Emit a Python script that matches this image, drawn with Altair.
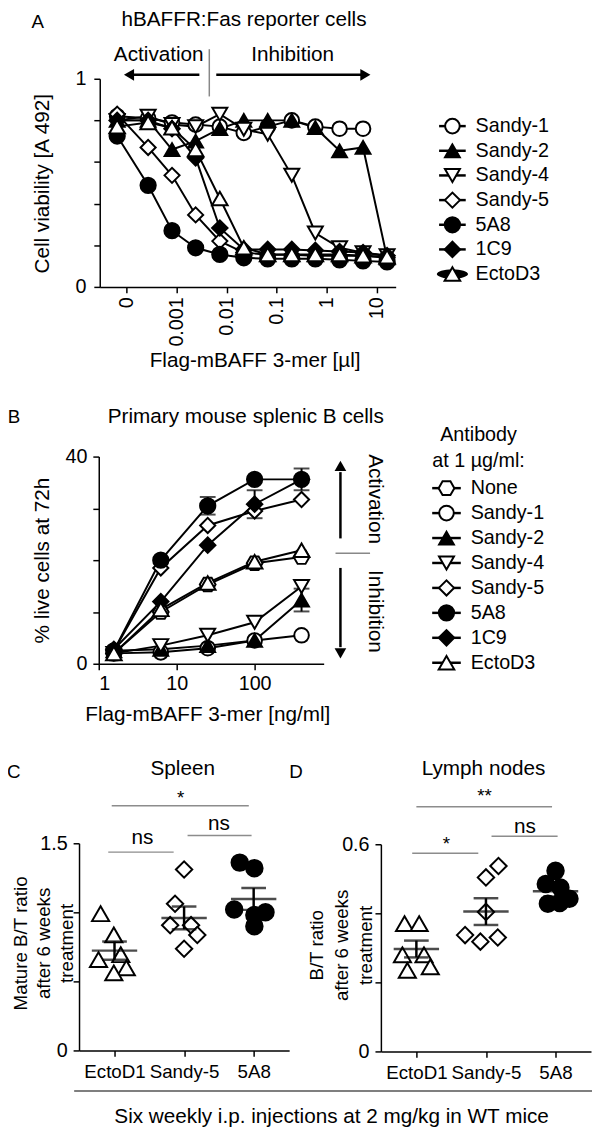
import altair as alt
import pandas as pd

FONT = "Liberation Sans"
W, H = 592, 1128

# ---------------- Panel A : hBAFFR:Fas reporter cells ----------------
A_series = ["Sandy-1", "Sandy-2", "Sandy-4", "Sandy-5", "5A8", "1C9", "EctoD3"]
A_conc = [0, 0.00027, 0.00081, 0.0024, 0.0073, 0.022, 0.066, 0.2, 0.59, 1.8, 5.3, 16]
A_sandy1 = [0.82, 0.81, 0.79, 0.78, 0.77, 0.74, 0.77, 0.80, 0.77, 0.76, 0.76, None]
A_sandy2 = [0.80, 0.80, 0.66, 0.70, 0.76, 0.80, 0.80, 0.80, 0.765, 0.654, 0.67, 0.14]
A_sandy4 = [0.80, 0.82, 0.78, 0.77, 0.83, 0.757, 0.733, 0.536, 0.259, 0.188, 0.164, 0.15]
A_sandy5 = [0.83, 0.67, 0.536, 0.346, 0.22, 0.165, 0.155, 0.155, 0.15, 0.15, 0.15, 0.14]
A_5a8 = [0.725, 0.488, 0.27, 0.188, 0.156, 0.14, 0.135, 0.135, 0.135, 0.13, 0.125, 0.12]
A_1c9 = [0.80, 0.80, 0.76, 0.62, 0.283, 0.18, 0.18, 0.18, 0.175, 0.17, 0.165, 0.15]
A_ectod3 = [0.77, 0.79, 0.765, 0.66, 0.425, 0.188, 0.156, 0.156, 0.156, 0.156, 0.15, 0.145]
A_xticks = [0.0001, 0.001, 0.01, 0.1, 1, 10]
A_xlabels = ["0", "0.001", "0.01", "0.1", "1", "10"]

# ---------------- Panel B : primary mouse splenic B cells ----------------
B_series = ["None", "Sandy-1", "Sandy-2", "Sandy-4", "Sandy-5", "5A8", "1C9", "EctoD3"]
B_conc = [1.5625, 6.25, 25, 100, 400]
B_none = [2.0, 10.0, 15.3, 19.4, 20.6]
B_sandy1 = [2.0, 2.2, 3.0, 4.5, 5.5]
B_sandy2 = [2.5, 2.8, 3.5, 4.5, 12.3]
B_sandy4 = [2.0, 3.5, 5.5, 8.0, 14.9]
B_sandy5 = [2.5, 18.5, 26.7, 29.5, 31.7]
B_5a8 = [2.5, 20.0, 30.5, 35.6, 35.6]
B_1c9 = [2.8, 12.0, 22.9, 30.8, 35.6]
B_ectod3 = [2.0, 10.5, 15.6, 19.7, 21.9]
B_err_sandy2 = [0, 0, 0, 0, 2.2]
B_err_5a8 = [0, 0, 1.7, 0, 0]
B_err_1c9 = [0, 0, 0, 2.7, 2.1]
B_xticks = [1, 10, 100]
B_xlabels = ["1", "10", "100"]

# ---------------- Panels C / D ----------------
CD_groups = ["EctoD1", "Sandy-5", "5A8"]
C_ectod1 = [0.99, 0.836, 0.657, 0.693, 0.598, 0.562]
C_sandy5 = [1.31, 1.062, 0.907, 0.907, 0.836, 0.736]
C_5a8 = [1.36, 1.32, 1.02, 0.98, 1.00, 0.90]
C_spread_ectod1 = [-0.20, -0.01, -0.23, 0.09, 0.17, -0.01]
C_spread_sandy5 = [0.0, -0.13, -0.20, 0.10, 0.19, 0.0]
C_spread_5a8 = [-0.20, 0.01, -0.28, 0.01, 0.17, 0.01]
D_ectod1 = [0.37, 0.37, 0.28, 0.28, 0.235, 0.245]
D_sandy5 = [0.537, 0.504, 0.404, 0.337, 0.318, 0.33]
D_5a8 = [0.523, 0.485, 0.475, 0.442, 0.428, 0.43]
D_spread_ectod1 = [-0.17, 0.04, -0.20, 0.11, -0.13, 0.20]
D_spread_sandy5 = [0.18, 0.0, 0.0, -0.30, -0.08, 0.17]
D_spread_5a8 = [0.0, -0.14, 0.07, 0.20, -0.11, 0.06]

# ---------------- styling ----------------
HEX = "M-1,0L-0.5,-0.866L0.5,-0.866L1,0L0.5,0.866L-0.5,0.866Z"
LENS = "M-1,0A1,0.3,0,0,1,1,0A1,0.3,0,0,1,-1,0Z"
shape_dom = ["Sandy-1", "Sandy-2", "Sandy-4", "Sandy-5", "5A8", "1C9", "EctoD3", "None", "EctoD1"]
shape_rng = ["circle", "triangle-up", "triangle-down", "diamond", "circle", "diamond",
             "triangle-up", HEX, "triangle-up"]
fill_rng = ["white", "black", "white", "white", "black", "black", "white", "white", "white"]
shape_sc = alt.Scale(domain=shape_dom, range=shape_rng)
fill_sc = alt.Scale(domain=shape_dom, range=fill_rng)
sizeA_sc = alt.Scale(domain=shape_dom, range=[220, 260, 280, 210, 220, 140, 280, 220, 280])
sizeCD_sc = alt.Scale(domain=shape_dom, range=[260, 300, 300, 270, 280, 180, 320, 260, 320])

AX = dict(domainColor="black", domainWidth=1.5, tickColor="black", tickWidth=1.5, tickSize=6,
          labelColor="black", labelFont=FONT, titleFont=FONT,
          titleFontWeight="normal", titleColor="black", grid=False)


def label_expr(values, labels):
    return " : ".join(f"datum.value == {v} ? '{l}'" for v, l in zip(values, labels)) + " : ''"


def lin(domain, rng):
    return alt.Scale(domain=domain, range=rng, nice=False, zero=False)


def text_layer(xs, ys, x, y, t, size=21, angle=0, align="center"):
    df = pd.DataFrame({"x": [x], "y": [y], "t": [t]})
    return alt.Chart(df).mark_text(font=FONT, fontSize=size, color="black", angle=angle,
                                   align=align, baseline="middle").encode(
        x=alt.X("x:Q", scale=xs, axis=None), y=alt.Y("y:Q", scale=ys, axis=None), text="t:N")


def rule_layer(xs, ys, x, x2, y, y2, color="black", width=2.0):
    df = pd.DataFrame({"x": [x], "x2": [x2], "y": [y], "y2": [y2]})
    return alt.Chart(df).mark_rule(color=color, strokeWidth=width).encode(
        x=alt.X("x:Q", scale=xs, axis=None), x2="x2:Q",
        y=alt.Y("y:Q", scale=ys, axis=None), y2="y2:Q")


def head_layer(xs, ys, x, y, shape, size=140):
    df = pd.DataFrame({"x": [x], "y": [y]})
    return alt.Chart(df).mark_point(shape=shape, filled=True, color="black", opacity=1,
                                    size=size, strokeWidth=0).encode(
        x=alt.X("x:Q", scale=xs, axis=None), y=alt.Y("y:Q", scale=ys, axis=None))


def marker_enc(field, size_sc):
    return dict(shape=alt.Shape(field, scale=shape_sc, legend=None),
                fill=alt.Fill(field, scale=fill_sc, legend=None),
                size=alt.Size(field, scale=size_sc, legend=None))


MARK = dict(filled=True, stroke="black", strokeWidth=2, opacity=1)

# ================= Panel A =================
A_vals = dict(zip(A_series, [A_sandy1, A_sandy2, A_sandy4, A_sandy5, A_5a8, A_1c9, A_ectod3]))
dfA = pd.DataFrame([{"s": s, "c": c, "v": v} for s in A_series
                    for c, v in zip(A_conc, A_vals[s]) if v is not None])
xsA = alt.Scale(type="log", domain=[10 ** -4.535, 10 ** 1.376], range=[93, 393], nice=False)
ysA = lin([0, 1], [275, 64])
axA_x = alt.Axis(orient="bottom", offset=275 - H, values=A_xticks,
                 labelExpr=label_expr(A_xticks, A_xlabels), labelAngle=270, labelAlign="right",
                 labelBaseline="middle", labelPadding=4, labelFontSize=20,
                 title="Flag-mBAFF 3-mer [µl]", titleFontSize=21,
                 titleX=250, titleY=75, titleAngle=0, titleAlign="center", titleBaseline="middle", **AX)
axA_y = alt.Axis(orient="left", offset=-93, values=[0, 0.2, 0.4, 0.6, 0.8, 1],
                 labelExpr=label_expr([0, 1], ["0", "1"]), labelPadding=8, labelFontSize=20,
                 title="Cell viability [A 492]", titleFontSize=21, titleX=-58, titleY=170,
                 titleAngle=270, titleAlign="center", titleBaseline="middle", **AX)
baseA = alt.Chart(dfA).transform_calculate(xp="datum.c == 0 ? 0.000065 : datum.c")
layersA = [
    baseA.mark_line(color="black", strokeWidth=2).encode(
        x=alt.X("xp:Q", scale=xsA, axis=axA_x), y=alt.Y("v:Q", scale=ysA, axis=axA_y),
        detail="s:N"),
    baseA.mark_point(**MARK).encode(
        x=alt.X("xp:Q", scale=xsA, axis=None), y=alt.Y("v:Q", scale=ysA, axis=None),
        **marker_enc("s:N", sizeA_sc)),
    text_layer(xsA, ysA, 0.0222, 1.284, "hBAFFR:Fas reporter cells"),
    text_layer(xsA, ysA, 1.69e-6, 1.27, "A", size=19),
    text_layer(xsA, ysA, 0.00044, 1.114, "Activation"),
    text_layer(xsA, ysA, 0.2075, 1.114, "Inhibition"),
    rule_layer(xsA, ysA, 0.00285, 1.3e-4, 1.019, 1.019, width=2.5),
    head_layer(xsA, ysA, 1.12e-4, 1.019, "triangle-left"),
    rule_layer(xsA, ysA, 0.0062, 5.0, 1.019, 1.019, width=2.5),
    head_layer(xsA, ysA, 5.9, 1.019, "triangle-right"),
    rule_layer(xsA, ysA, 0.0045, 0.0045, 1.142, 0.915, color="#888888", width=1.5),
]

# legend A
legA = pd.DataFrame({"s": A_series, "i": list(range(len(A_series)))})
lxA = lin([0, 1], [437, 464])
lyA = lin([0, len(A_series) - 1], [112, 262])
baseLA = alt.Chart(legA).transform_calculate(a="0", b="1", m="0.5", t="1.37")
layersLA = [
    baseLA.transform_filter("datum.s == 'EctoD3'").mark_point(
        shape=LENS, filled=True, color="black", opacity=1, size=1000, strokeWidth=0).encode(
        x=alt.X("m:Q", scale=lxA, axis=None), y=alt.Y("i:Q", scale=lyA, axis=None)),
    baseLA.mark_rule(color="black", strokeWidth=2.5).encode(
        x=alt.X("a:Q", scale=lxA, axis=None), x2="b:Q", y=alt.Y("i:Q", scale=lyA, axis=None)),
    baseLA.mark_point(**MARK).encode(
        x=alt.X("m:Q", scale=lxA, axis=None), y=alt.Y("i:Q", scale=lyA, axis=None),
        **marker_enc("s:N", sizeA_sc)),
    baseLA.mark_text(font=FONT, fontSize=20, align="left", baseline="middle", color="black").encode(
        x=alt.X("t:Q", scale=lxA, axis=None), y=alt.Y("i:Q", scale=lyA, axis=None), text="s:N"),
]

# ================= Panel B =================
B_vals = dict(zip(B_series, [B_none, B_sandy1, B_sandy2, B_sandy4, B_sandy5, B_5a8, B_1c9, B_ectod3]))
B_errs = {"Sandy-2": B_err_sandy2, "5A8": B_err_5a8, "1C9": B_err_1c9}
dfB = pd.DataFrame([{"s": s, "c": c, "v": v, "e": B_errs.get(s, [0] * 5)[k]}
                    for s in B_series for k, (c, v) in enumerate(zip(B_conc, B_vals[s]))])
xsB = alt.Scale(type="log", domain=[1, 10 ** 2.886], range=[92, 320], nice=False)
ysB = lin([0, 40], [657, 447])
axB_x = alt.Axis(orient="bottom", offset=657 - H, values=B_xticks,
                 labelExpr=label_expr(B_xticks, B_xlabels), labelAngle=0, labelPadding=4,
                 labelFontSize=20, title="Flag-mBAFF 3-mer [ng/ml]", titleFontSize=21,
                 titleX=202, titleY=52, titleAngle=0, titleAlign="center", titleBaseline="middle", **AX)
axB_y = alt.Axis(orient="left", offset=-92, values=[0, 10, 20, 30, 40],
                 labelExpr=label_expr([0, 40], ["0", "40"]), labelPadding=6, labelFontSize=20,
                 title="% live cells at 72h", titleFontSize=21, titleX=-57, titleY=552,
                 titleAngle=270, titleAlign="center", titleBaseline="middle", **AX)
baseB = alt.Chart(dfB)
errB = baseB.transform_filter("datum.e > 0").transform_calculate(
    lo="datum.v - datum.e", hi="datum.v + datum.e")
layersB = [
    baseB.mark_line(color="black", strokeWidth=2).encode(
        x=alt.X("c:Q", scale=xsB, axis=axB_x), y=alt.Y("v:Q", scale=ysB, axis=axB_y), detail="s:N"),
    errB.mark_rule(color="black", strokeWidth=2).encode(
        x=alt.X("c:Q", scale=xsB, axis=None), y=alt.Y("lo:Q", scale=ysB, axis=None), y2="hi:Q"),
    errB.mark_tick(orient="horizontal", color="black", thickness=2, size=16).encode(
        x=alt.X("c:Q", scale=xsB, axis=None), y=alt.Y("hi:Q", scale=ysB, axis=None)),
    errB.mark_tick(orient="horizontal", color="black", thickness=2, size=16).encode(
        x=alt.X("c:Q", scale=xsB, axis=None), y=alt.Y("lo:Q", scale=ysB, axis=None)),
    baseB.mark_point(**MARK).encode(
        x=alt.X("c:Q", scale=xsB, axis=None), y=alt.Y("v:Q", scale=ysB, axis=None),
        **marker_enc("s:N", sizeA_sc)),
    text_layer(xsB, ysB, 76.9, 47.6, "Primary mouse splenic B cells"),
    text_layer(xsB, ysB, 0.0815, 47.6, "B", size=19),
    rule_layer(xsB, ysB, 1262, 1262, 24.2, 37.0, width=2.5),
    head_layer(xsB, ysB, 1262, 38.2, "triangle-up"),
    rule_layer(xsB, ysB, 1091, 3027, 21.33, 21.33, color="#888888", width=1.5),
    text_layer(xsB, ysB, 3500, 31.8, "Activation", angle=90),
    text_layer(xsB, ysB, 3500, 10.1, "Inhibition", angle=90),
    rule_layer(xsB, ysB, 1262, 1262, 18.5, 3.2, width=2.5),
    head_layer(xsB, ysB, 1262, 2.0, "triangle-down"),
]

legB = pd.DataFrame({"s": B_series, "i": list(range(len(B_series)))})
lxB = lin([0, 1], [430, 459])
lyB = lin([0, len(B_series) - 1], [479, 656])
baseLB = alt.Chart(legB).transform_calculate(a="0", b="1", m="0.5", t="1.345")
layersLB = [
    baseLB.mark_rule(color="black", strokeWidth=2.5).encode(
        x=alt.X("a:Q", scale=lxB, axis=None), x2="b:Q", y=alt.Y("i:Q", scale=lyB, axis=None)),
    baseLB.mark_point(**MARK).encode(
        x=alt.X("m:Q", scale=lxB, axis=None), y=alt.Y("i:Q", scale=lyB, axis=None),
        **marker_enc("s:N", sizeA_sc)),
    baseLB.mark_text(font=FONT, fontSize=20, align="left", baseline="middle", color="black").encode(
        x=alt.X("t:Q", scale=lxB, axis=None), y=alt.Y("i:Q", scale=lyB, axis=None), text="s:N"),
    text_layer(lxB, lyB, 1.62, -2.14, "Antibody", size=20),
    text_layer(lxB, lyB, 1.62, -1.07, "at 1 µg/ml:", size=20),
]


# ================= Panels C / D =================
def scatter_layers(vals, spreads, ys, xs, axy, axx, brackets, labels, title_t, letter_t):
    df = pd.DataFrame([{"g": g, "gi": gi, "v": v, "j": j}
                       for gi, g in enumerate(CD_groups)
                       for v, j in zip(vals[gi], spreads[gi])])
    base = alt.Chart(df)
    stats = base.transform_aggregate(m="mean(v)", se="stderr(v)", groupby=["g", "gi"]).transform_calculate(
        lo="datum.m - datum.se", hi="datum.m + datum.se")
    layers = [
        base.transform_calculate(xj="datum.gi + datum.j").mark_point(**MARK).encode(
            x=alt.X("xj:Q", scale=xs, axis=axx), y=alt.Y("v:Q", scale=ys, axis=axy),
            **marker_enc("g:N", sizeCD_sc)),
        stats.mark_tick(orient="horizontal", color="black", thickness=2.5, size=46).encode(
            x=alt.X("gi:Q", scale=xs, axis=None), y=alt.Y("m:Q", scale=ys, axis=None)),
        stats.mark_rule(color="black", strokeWidth=2.5).encode(
            x=alt.X("gi:Q", scale=xs, axis=None), y=alt.Y("lo:Q", scale=ys, axis=None), y2="hi:Q"),
        stats.mark_tick(orient="horizontal", color="black", thickness=2.5, size=25).encode(
            x=alt.X("gi:Q", scale=xs, axis=None), y=alt.Y("hi:Q", scale=ys, axis=None)),
        stats.mark_tick(orient="horizontal", color="black", thickness=2.5, size=25).encode(
            x=alt.X("gi:Q", scale=xs, axis=None), y=alt.Y("lo:Q", scale=ys, axis=None)),
    ]
    for (x1, x2, y) in brackets:
        layers.append(rule_layer(xs, ys, x1, x2, y, y, color="#8c8c8c", width=1.5))
    for (x, y, t, sz) in labels:
        layers.append(text_layer(xs, ys, x, y, t, size=sz))
    layers.append(text_layer(xs, ys, title_t[0], title_t[1], title_t[2]))
    layers.append(text_layer(xs, ys, letter_t[0], letter_t[1], letter_t[2], size=19))
    return layers


xsC = lin([-0.51, 2.51], [72, 285])
ysC = lin([0, 1.5], [1049, 839])
CD_xlabels_expr = label_expr([0, 1, 2], CD_groups)
axC_x = alt.Axis(orient="bottom", offset=1049 - H, values=[0, 1, 2], labelExpr=CD_xlabels_expr,
                 labelPadding=6, labelFontSize=19, labelOverlap=False, title=None, **AX)
axC_y = alt.Axis(orient="left", offset=-72, values=[0, 0.5, 1, 1.5],
                 labelExpr=label_expr([0, 1.5], ["0", "1.5"]), labelPadding=6, labelFontSize=20,
                 title=["Mature B/T ratio", "after 6 weeks", "treatment"], titleFontSize=19,
                 titleLineHeight=23, titleX=-59, titleY=940, titleAngle=270, titleAlign="center",
                 titleBaseline="middle", **AX)
layersC = scatter_layers(
    [C_ectod1, C_sandy5, C_5a8], [C_spread_ectod1, C_spread_sandy5, C_spread_5a8],
    ysC, xsC, axC_y, axC_x,
    brackets=[(-0.04, 1.93, 1.771), (-0.09, 0.85, 1.436), (1.05, 1.97, 1.557)],
    labels=[(0.95, 1.83, "*", 19), (0.4, 1.536, "ns", 21), (1.5, 1.636, "ns", 21)],
    title_t=(0.98, 2.036, "Spleen"), letter_t=(-1.447, 2.014, "C"))
layersC += [
    rule_layer(xsC, ysC, -0.58, 6.9, -0.293, -0.293, color="#555555", width=1.5),
    text_layer(xsC, ysC, 3.12, -0.486, "Six weekly i.p. injections at 2 mg/kg in WT mice"),
]

xsD = lin([-0.51, 2.51], [378, 591])
ysD = lin([0, 0.6], [1050, 840])
axD_x = alt.Axis(orient="bottom", offset=1050 - H, values=[0, 1, 2], labelExpr=CD_xlabels_expr,
                 labelPadding=6, labelFontSize=19, labelOverlap=False, title=None, **AX)
axD_y = alt.Axis(orient="left", offset=-378, values=[0, 0.2, 0.4, 0.6],
                 labelExpr=label_expr([0, 0.6], ["0", "0.6"]), labelPadding=6, labelFontSize=20,
                 title=["B/T ratio", "after 6 weeks", "treatment"], titleFontSize=19,
                 titleLineHeight=25, titleX=-65, titleY=942, titleAngle=270, titleAlign="center",
                 titleBaseline="middle", **AX)
layersD = scatter_layers(
    [D_ectod1, D_sandy5, D_5a8], [D_spread_ectod1, D_spread_sandy5, D_spread_5a8],
    ysD, xsD, axD_y, axD_x,
    brackets=[(0.0, 1.95, 0.709), (-0.06, 0.89, 0.574), (1.08, 2.03, 0.623)],
    labels=[(0.98, 0.74, "**", 19), (0.43, 0.60, "*", 19), (1.56, 0.651, "ns", 21)],
    title_t=(0.965, 0.817, "Lymph nodes"), letter_t=(-1.73, 0.809, "D"))

chart = alt.layer(*layersA, *layersLA, *layersB, *layersLB, *layersC, *layersD).resolve_scale(
    x="independent", y="independent", size="independent"
).properties(
    width=W, height=H, padding=0, autosize=alt.AutoSizeParams(type="none")
).configure(font=FONT).configure_view(stroke=None)

chart.save("out.html", embed_options={"renderer": "svg", "actions": False})
